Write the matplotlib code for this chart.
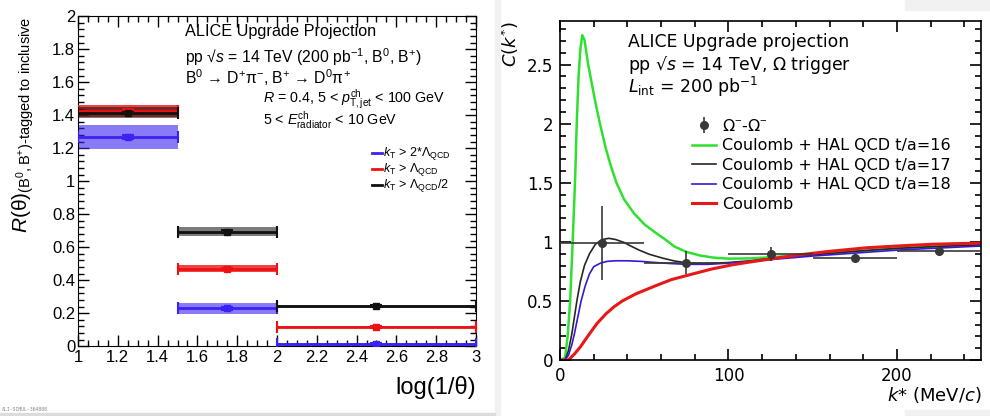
import matplotlib
matplotlib.use('Agg')
import matplotlib.pyplot as plt
from matplotlib.lines import Line2D
from matplotlib.patches import Rectangle
from matplotlib.legend_handler import HandlerTuple
from matplotlib.ticker import MultipleLocator, FuncFormatter

plt.rcParams['mathtext.fontset'] = 'custom'
plt.rcParams['mathtext.rm'] = 'Liberation Sans'
plt.rcParams['mathtext.it'] = 'Liberation Sans:italic'
plt.rcParams['mathtext.bf'] = 'Liberation Sans:bold'
plt.rcParams['mathtext.sf'] = 'Liberation Sans'

# ---- left panel: R(theta), B-tagged / inclusive, in bins of log(1/theta)
bin_lo = [1.0, 1.5, 2.0]
bin_hi = [1.5, 2.0, 3.0]

r_kt2 = [1.265, 0.228, 0.010]          # kT > 2*Lambda_QCD
r_kt2_stat = [0.012, 0.008, 0.006]
r_kt2_sys = [0.072, 0.033, 0.010]

r_kt1 = [1.425, 0.470, 0.115]          # kT > Lambda_QCD
r_kt1_stat = [0.012, 0.006, 0.004]
r_kt1_sys = [0.036, 0.022, 0.008]

r_kth = [1.415, 0.693, 0.242]          # kT > Lambda_QCD/2
r_kth_stat = [0.006, 0.008, 0.005]
r_kth_sys = [0.032, 0.026, 0.008]

leg_left = [r'$k_{\mathrm{T}}$ > 2*Λ$_{\mathrm{QCD}}$',
            r'$k_{\mathrm{T}}$ > Λ$_{\mathrm{QCD}}$',
            r'$k_{\mathrm{T}}$ > Λ$_{\mathrm{QCD}}$/2']

# ---- right panel: Omega-Omega correlation function
k_pts = [25, 75, 125, 175, 225]
k_pts_err = [25, 25, 25, 25, 25]
c_pts = [0.99, 0.825, 0.895, 0.865, 0.925]
c_pts_err = [0.31, 0.10, 0.06, 0.03, 0.02]

k_t16 = [0, 3, 4.5, 6, 7.5, 9, 9.9, 11, 12, 13.2, 14.5, 16.7, 19, 21, 23.7, 27, 30,
         33.5, 38, 44, 50, 56, 62, 68, 75, 83, 91, 100, 113, 125, 150, 175, 200, 225, 250]
c_t16 = [0, 0.02, 0.2, 0.5, 1.0, 1.55, 2.0, 2.4, 2.62, 2.75, 2.71, 2.5, 2.33, 2.18,
         2.0, 1.8, 1.65, 1.5, 1.36, 1.24, 1.15, 1.085, 1.025, 0.96, 0.915, 0.885, 0.867,
         0.858, 0.86, 0.87, 0.895, 0.92, 0.945, 0.962, 0.975]

k_t17 = [0, 3, 5, 7, 8.5, 10, 12, 14.5, 17.5, 21, 25, 29, 33, 38, 42, 47, 53, 61, 68,
         75, 85, 100, 113, 125, 150, 175, 200, 225, 250]
c_t17 = [0, 0.0, 0.08, 0.22, 0.36, 0.5, 0.66, 0.8, 0.9, 0.98, 1.02, 1.03, 1.02, 0.995,
         0.965, 0.93, 0.895, 0.862, 0.838, 0.823, 0.816, 0.825, 0.84, 0.86, 0.89, 0.92,
         0.945, 0.962, 0.975]

k_t18 = [0, 3, 5, 7, 8.5, 10.5, 12.5, 15, 17.5, 20, 24, 28, 33, 40, 48, 56, 65, 75,
         88, 100, 113, 125, 150, 175, 200, 225, 250]
c_t18 = [0, 0.0, 0.04, 0.13, 0.22, 0.36, 0.5, 0.63, 0.73, 0.79, 0.82, 0.835, 0.84,
         0.84, 0.835, 0.826, 0.817, 0.81, 0.81, 0.82, 0.835, 0.85, 0.88, 0.905, 0.93,
         0.948, 0.965]

k_coul = [0, 5, 8.5, 12, 17.4, 22, 27.2, 32, 37, 45, 57, 66, 76.5, 90, 102, 113, 125,
          142, 160, 182, 200, 221, 250]
c_coul = [0, 0, 0.05, 0.11, 0.22, 0.31, 0.39, 0.45, 0.5, 0.56, 0.63, 0.68, 0.72, 0.77,
          0.805, 0.83, 0.855, 0.89, 0.92, 0.95, 0.965, 0.98, 0.99]

leg_right = [r'Ω$^{-}$-Ω$^{-}$', 'Coulomb + HAL QCD t/a=16', 'Coulomb + HAL QCD t/a=17',
             'Coulomb + HAL QCD t/a=18', 'Coulomb']

LS = 'Liberation Sans'
DV = 'DejaVu Sans'
fmt_g = FuncFormatter(lambda v, p: '%g' % round(v, 6))

fig = plt.figure(figsize=(9.9, 4.16), dpi=100)

# light grey frame pieces of the screenshot
fig.patches.append(Rectangle((0.4995, 0), 0.006, 1, transform=fig.transFigure,
                             color='#f1f1f1', zorder=0))
fig.patches.append(Rectangle((0, 0.0), 0.5, 0.007, transform=fig.transFigure,
                             color='#dcdcdc', zorder=0))
fig.patches.append(Rectangle((0.914, 0.976), 0.086, 0.024, transform=fig.transFigure,
                             color='#f1f1f1', zorder=0))
fig.patches.append(Rectangle((0.914, 0), 0.086, 0.015, transform=fig.transFigure,
                             color='#f1f1f1', zorder=0))

# ================= left panel =================
ax = fig.add_axes([0.0788, 0.168, 0.402, 0.7933])
centers = [(a + b) / 2 for a, b in zip(bin_lo, bin_hi)]
halfw = [(b - a) / 2 for a, b in zip(bin_lo, bin_hi)]

series = [
    (r_kt2, r_kt2_stat, r_kt2_sys, '#3a22f0', 0.6),
    (r_kt1, r_kt1_stat, r_kt1_sys, '#ee1111', 0.8),
    (r_kth, r_kth_stat, r_kth_sys, '#111111', 0.55),
]
for vals, stat, sys, col, alp in series:
    ax.bar(centers, [2 * s for s in sys], bottom=[v - s for v, s in zip(vals, sys)],
           width=[2 * h for h in halfw], color=col, alpha=alp, lw=0, zorder=2)
    ax.errorbar(centers, vals, xerr=halfw, yerr=stat, fmt='s', color=col, ms=5,
                elinewidth=2, capsize=4, capthick=1.5, zorder=3)

ax.set_xlim(1, 3)
ax.set_ylim(0, 2)
ax.xaxis.set_major_locator(MultipleLocator(0.2))
ax.xaxis.set_minor_locator(MultipleLocator(0.05))
ax.yaxis.set_major_locator(MultipleLocator(0.2))
ax.yaxis.set_minor_locator(MultipleLocator(0.04))
ax.xaxis.set_major_formatter(fmt_g)
ax.yaxis.set_major_formatter(fmt_g)
ax.tick_params(which='both', direction='in', top=True, right=True, width=1,
               labelsize=12, labelfontfamily=LS)
ax.tick_params(which='major', length=8)
ax.tick_params(which='minor', length=4)
ax.tick_params(axis='y', pad=2)
ax.tick_params(axis='x', pad=3)

ax.text(1.0, -0.125, 'log(1/θ)', transform=ax.transAxes, ha='right', va='center',
        fontsize=17, family=LS)
ax.text(-0.137, 1.0,
        r'$R(\mathrm{\theta})_{(\mathrm{B}^{0},\mathrm{B}^{+})\text{-tagged to inclusive}}$',
        transform=ax.transAxes, rotation=90, ha='center', va='top', fontsize=15, family=LS)

ax.text(0.269, 0.952, 'ALICE Upgrade Projection', transform=ax.transAxes,
        va='center', fontsize=11.7, family=LS)
ax.text(0.269, 0.876, r'pp √$s$ = 14 TeV (200 pb$^{-1}$, B$^{0}$, B$^{+}$)',
        transform=ax.transAxes, va='center', fontsize=11.3, family=LS)
ax.text(0.269, 0.815, r'B$^{0}$ → D$^{+}$π$^{-}$, B$^{+}$ → D$^{0}$π$^{+}$',
        transform=ax.transAxes, va='center', fontsize=11.3, family=LS)
ax.text(0.465, 0.748, r'$R$ = 0.4, 5 < $p_{\mathrm{T,jet}}^{\mathrm{ch}}$ < 100 GeV',
        transform=ax.transAxes, va='center', fontsize=10.3, family=LS)
ax.text(0.465, 0.685, r'5 < $E_{\mathrm{radiator}}^{\mathrm{ch}}$ < 10 GeV',
        transform=ax.transAxes, va='center', fontsize=10.3, family=LS)

# legend drawn by hand, ROOT style (tight rows)
for i, (s, lab) in enumerate(zip(series, leg_left)):
    yy = 0.584 - i * 0.048
    ax.plot([0.739, 0.764], [yy, yy], color=s[3], lw=2, transform=ax.transAxes,
            clip_on=False)
    ax.text(0.767, yy, lab, transform=ax.transAxes, va='center', fontsize=9, family=LS)

fig.text(0.002, 0.012, 'ALI-SIMUL-364808', fontsize=3.5, color='#888888',
         family='DejaVu Sans Mono')

# ================= right panel =================
ax2 = fig.add_axes([0.5657, 0.1346, 0.4253, 0.815])
l16, = ax2.plot(k_t16, c_t16, color='#2fe02f', lw=1.8)
l17, = ax2.plot(k_t17, c_t17, color='#262626', lw=1.2)
l18, = ax2.plot(k_t18, c_t18, color='#3b16d6', lw=1.2)
lco, = ax2.plot(k_coul, c_coul, color='#e81818', lw=2.2)
ax2.errorbar(k_pts, c_pts, xerr=k_pts_err, yerr=c_pts_err, fmt='o', color='#383838',
             ms=5.5, elinewidth=1.2, capsize=0, zorder=4)

ax2.set_xlim(0, 250)
ax2.set_ylim(0, 2.87)
ax2.xaxis.set_major_locator(MultipleLocator(100))
ax2.xaxis.set_minor_locator(MultipleLocator(20))
ax2.yaxis.set_major_locator(MultipleLocator(0.5))
ax2.yaxis.set_minor_locator(MultipleLocator(0.1))
ax2.xaxis.set_major_formatter(fmt_g)
ax2.yaxis.set_major_formatter(fmt_g)
ax2.tick_params(which='both', direction='in', top=True, right=True, width=1.2,
                labelsize=12, labelfontfamily=DV)
ax2.tick_params(which='major', length=8)
ax2.tick_params(which='minor', length=4)
ax2.tick_params(axis='both', pad=5)
for sp in ax2.spines.values():
    sp.set_linewidth(1.2)

ax2.text(-0.119, 1.0, r'$C(k^{*})$', transform=ax2.transAxes, rotation=90,
         ha='center', va='top', fontsize=13, family=DV, math_fontfamily='dejavusans')
ax2.text(1.0, -0.103, r'$k$* (MeV/$c$)', transform=ax2.transAxes, ha='right',
         va='center', fontsize=13, family=DV, math_fontfamily='dejavusans')

ax2.text(0.161, 0.938, 'ALICE Upgrade projection', transform=ax2.transAxes,
         va='center', fontsize=12.4, family=DV)
ax2.text(0.161, 0.870, r'pp √$s$ = 14 TeV, Ω trigger', transform=ax2.transAxes,
         va='center', fontsize=12.4, family=DV, math_fontfamily='dejavusans')
ax2.text(0.161, 0.805, r'$L_{\mathrm{int}}$ = 200 pb$^{-1}$', transform=ax2.transAxes,
         va='center', fontsize=12.4, family=DV, math_fontfamily='dejavusans')

pt_handle = (Line2D([], [], marker='|', ms=11, mew=1.2, color='#383838', ls='none'),
             Line2D([], [], marker='o', ms=5.5, color='#383838', ls='none'))
ax2.legend([pt_handle, l16, l17, l18, lco], leg_right, loc='upper left',
           bbox_to_anchor=(0.313, 0.714), frameon=False,
           prop={'family': DV, 'size': 11.5}, handlelength=1.5, handletextpad=0.4,
           labelspacing=0.28, borderpad=0, borderaxespad=0,
           handler_map={tuple: HandlerTuple(ndivide=1)})

fig.savefig('out.png', dpi=100)
